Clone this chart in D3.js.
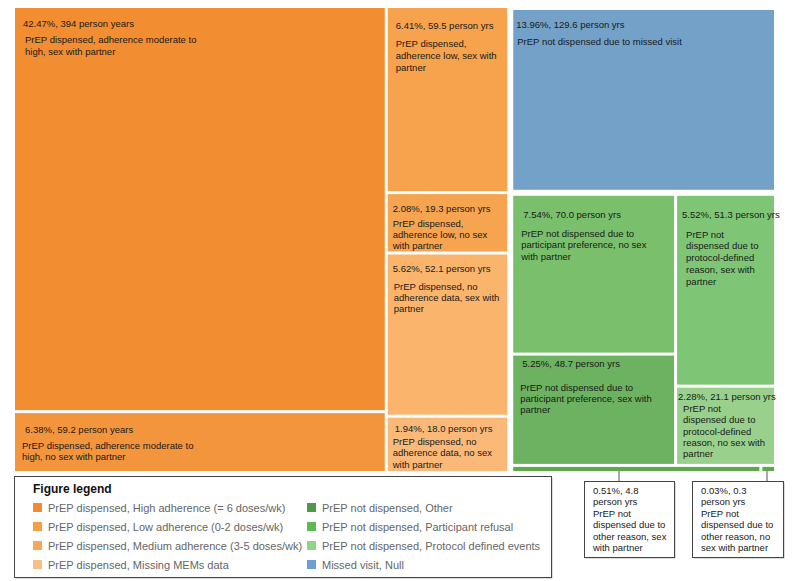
<!DOCTYPE html>
<html>
<head>
<meta charset="utf-8">
<script src="https://cdn.jsdelivr.net/npm/d3@7"></script>
<style>
  html, body { margin: 0; padding: 0; background: #fff; }
  svg { display: block; font-family: "Liberation Sans", Arial, sans-serif; }
</style>
</head>
<body>
<svg id="chart" width="793" height="581"></svg>
<script>
// ---------------- DATA ----------------
const cellIds = ["hiSex","hiNoSex","lowSex","lowNoSex","noDataSex","noDataNoSex","missed","partNoSex","partSex","protSex","protNoSex","otherSex","otherNoSex"];
const cellParents = ["highAdh","highAdh","otherDisp","otherDisp","otherDisp","otherDisp","notDisp","participant","participant","protocol","protocol","otherReason","otherReason"];
const cellPercent = [42.47, 6.38, 6.41, 2.08, 5.62, 1.94, 13.96, 7.54, 5.25, 5.52, 2.28, 0.51, 0.03];
const cellPersonYears = ["394", "59.2", "59.5", "19.3", "52.1", "18.0", "129.6", "70.0", "48.7", "51.3", "21.1", "4.8", "0.3"];
const cellUnits = ["person years","person years","person yrs","person yrs","person yrs","person yrs","person yrs","person yrs","person yrs","person yrs","person yrs","person yrs","person yrs"];
const cellDescriptions = [
  "PrEP dispensed, adherence moderate to\nhigh, sex with partner",
  "PrEP dispensed, adherence moderate to\nhigh, no sex with partner",
  "PrEP dispensed,\nadherence low, sex with\npartner",
  "PrEP dispensed,\nadherence low, no sex\nwith partner",
  "PrEP dispensed, no\nadherence data, sex with\npartner",
  "PrEP dispensed, no\nadherence data, no sex\nwith partner",
  "PrEP not dispensed due to missed visit",
  "PrEP not dispensed due to\nparticipant preference, no sex\nwith partner",
  "PrEP not dispensed due to\nparticipant preference, sex with\npartner",
  "PrEP not\ndispensed due to\nprotocol-defined\nreason, sex with\npartner",
  "PrEP not\ndispensed due to\nprotocol-defined\nreason, no sex with\npartner",
  "PrEP not dispensed due to other reason, sex with partner",
  "PrEP not dispensed due to other reason, no sex with partner"
];
const groupIds = ["highAdh","otherDisp","notDisp","green","greenTop","participant","protocol","otherReason"];
const groupParents = ["root","root","root","notDisp","green","greenTop","greenTop","green"];
const nodeOrder = ["highAdh","otherDisp","notDisp","missed","green","greenTop","otherReason","participant","protocol"].concat(cellIds);

const legendTitle = "Figure legend";
const legendLabels = [
  "PrEP dispensed, High adherence (= 6 doses/wk)",
  "PrEP dispensed, Low adherence (0-2 doses/wk)",
  "PrEP dispensed, Medium adherence (3-5 doses/wk)",
  "PrEP dispensed, Missing MEMs data",
  "PrEP not dispensed, Other",
  "PrEP not dispensed, Participant refusal",
  "PrEP not dispensed, Protocol defined events",
  "Missed visit, Null"
];

// ---------------- STYLES ----------------
const cellColors = {
  hiSex: "#F28D31", hiNoSex: "#F3953D", lowSex: "#F7A24C", lowNoSex: "#F6A450",
  noDataSex: "#FAB46C", noDataNoSex: "#FBB979", missed: "#73A1C7",
  partNoSex: "#79BF6C", partSex: "#6CB260", protSex: "#7EC675", protNoSex: "#99D08C",
  otherSex: "#5EA84C", otherNoSex: "#5EA84C"
};
const legendColors = ["#F08A35","#F5A040","#F9A65A","#F9BF87","#4E9A48","#5BBB4F","#8FD585","#6C9FD4"];
const tileDir = { root: "dice", highAdh: "slice", otherDisp: "slice", notDisp: "slice", green: "slice",
  greenTop: "dice", participant: "slice", protocol: "slice", otherReason: "dice" };
// label offsets relative to cell top-left: value (vx,vy), description (dx,dy), line step
const labelPos = {
  hiSex:       { vx: 8,  vy: 18.5, dx: 10, dy: 35,   step: 12 },
  hiNoSex:     { vx: 10, vy: 20,   dx: 7,  dy: 36,   step: 11 },
  lowSex:      { vx: 8,  vy: 21,   dx: 8,  dy: 39,   step: 12 },
  lowNoSex:    { vx: 5,  vy: 18,   dx: 5,  dy: 33,   step: 11 },
  noDataSex:   { vx: 5,  vy: 17.5, dx: 6,  dy: 35.5, step: 11 },
  noDataNoSex: { vx: 7,  vy: 14.5, dx: 5,  dy: 27,   step: 11.5 },
  missed:      { vx: 3,  vy: 18,   dx: 4,  dy: 35,   step: 12 },
  partNoSex:   { vx: 10, vy: 22,   dx: 8,  dy: 41,   step: 11.5 },
  partSex:     { vx: 9,  vy: 11.5, dx: 7,  dy: 35.5, step: 11 },
  protSex:     { vx: 5,  vy: 22,   dx: 9,  dy: 42,   step: 11.7 },
  protNoSex:   { vx: 1,  vy: 12.5, dx: 6,  dy: 24.5, step: 11.3 }
};
const callouts = {
  otherSex:   { bx: 584, by: 481, bw: 90, bh: 76, lx: 619 },
  otherNoSex: { bx: 692, by: 481, bw: 91, bh: 76, lx: 767 }
};
const FS = 9.5;

// ---------------- BUILD ----------------
const svg = d3.select("#chart");
const rows = [{ id: "root", parent: null }]
  .concat(groupIds.map((g, i) => ({ id: g, parent: groupParents[i] })))
  .concat(cellIds.map((c, i) => ({
    id: c, parent: cellParents[i], value: cellPercent[i],
    py: cellPersonYears[i], unit: cellUnits[i], desc: cellDescriptions[i]
  })));

const root = d3.stratify().id(d => d.id).parentId(d => d.parent)(rows)
  .sum(d => d.value || 0)
  .sort((a, b) => nodeOrder.indexOf(a.id) - nodeOrder.indexOf(b.id));

function tile(node, x0, y0, x1, y1) {
  (tileDir[node.id] === "dice" ? d3.treemapDice : d3.treemapSlice)(node, x0, y0, x1, y1);
}

d3.treemap()
  .size([760, 463])
  .tile(tile)
  .paddingInner(d => d.id === "notDisp" ? 6 : 3)
  .paddingLeft(d => d.id === "notDisp" ? 3 : 0)
  .paddingTop(d => d.id === "notDisp" ? 2 : 0)
  .paddingRight(d => d.id === "notDisp" ? 1 : 0)(root);

const g = svg.append("g").attr("transform", "translate(15,8)");
const leaves = root.leaves();

g.selectAll("rect.cell").data(leaves).join("rect")
  .attr("class", "cell")
  .attr("x", d => d.x0).attr("y", d => d.y0)
  .attr("width", d => d.x1 - d.x0).attr("height", d => d.y1 - d.y0)
  .attr("fill", d => cellColors[d.id]);

function valueText(d) { return `${d.data.value.toFixed(2)}%, ${d.data.py} ${d.data.unit}`; }

leaves.filter(d => labelPos[d.id]).forEach(d => {
  const p = labelPos[d.id];
  g.append("text")
    .attr("x", d.x0 + p.vx).attr("y", d.y0 + p.vy)
    .attr("font-size", FS).attr("fill", "#1a1a1a")
    .text(valueText(d));
  const t = g.append("text")
    .attr("x", d.x0 + p.dx).attr("y", d.y0 + p.dy)
    .attr("font-size", FS).attr("fill", "#1a1a1a");
  d.data.desc.split("\n").forEach((line, i) => {
    t.append("tspan").attr("x", d.x0 + p.dx).attr("y", d.y0 + p.dy + i * p.step).text(line);
  });
});

// callouts for tiny cells
function wrapWords(str, maxW) {
  const tmp = svg.append("text").attr("font-size", FS);
  const words = str.split(" ");
  const lines = [];
  let cur = "";
  words.forEach(w => {
    const test = cur ? cur + " " + w : w;
    tmp.text(test);
    if (tmp.node().getComputedTextLength() > maxW && cur) { lines.push(cur); cur = w; }
    else cur = test;
  });
  if (cur) lines.push(cur);
  tmp.remove();
  return lines;
}

leaves.filter(d => callouts[d.id]).forEach(d => {
  const c = callouts[d.id];
  svg.append("line")
    .attr("x1", c.lx).attr("x2", c.lx)
    .attr("y1", d.y1 + 8).attr("y2", c.by)
    .attr("stroke", "#555").attr("stroke-width", 1);
  svg.append("rect").attr("x", c.bx + 1.5).attr("y", c.by + 1.5).attr("width", c.bw).attr("height", c.bh)
    .attr("fill", "#bbb");
  svg.append("rect").attr("x", c.bx + 0.5).attr("y", c.by + 0.5).attr("width", c.bw).attr("height", c.bh)
    .attr("fill", "#fff").attr("stroke", "#444").attr("stroke-width", 1);
  const lines = wrapWords(valueText(d), c.bw - 14).concat(wrapWords(d.data.desc, c.bw - 14));
  const t = svg.append("text").attr("font-size", FS).attr("fill", "#1a1a1a");
  lines.forEach((line, i) => {
    t.append("tspan").attr("x", c.bx + 9).attr("y", c.by + 13 + i * 11.4).text(line);
  });
});

// legend
const lg = svg.append("g");
lg.append("rect").attr("x", 15.5).attr("y", 477.5).attr("width", 537).attr("height", 101).attr("fill", "#bbb");
lg.append("rect").attr("x", 14.5).attr("y", 476.5).attr("width", 537).attr("height", 101)
  .attr("fill", "#fff").attr("stroke", "#444").attr("stroke-width", 1);
lg.append("text").attr("x", 33).attr("y", 492.5).attr("font-size", 12).attr("font-weight", "bold")
  .attr("fill", "#111").text(legendTitle);
const legendCol = d3.scaleOrdinal().domain([0, 1]).range([33, 307]);
const legendRow = d3.scalePoint().domain([0, 1, 2, 3]).range([507.5, 564.5]);
legendLabels.forEach((lab, i) => {
  const col = Math.floor(i / 4), row = i % 4;
  const x = legendCol(col), y = legendRow(row);
  lg.append("rect").attr("x", x).attr("y", y - 4.5).attr("width", 9).attr("height", 9)
    .attr("fill", legendColors[i]);
  lg.append("text").attr("x", x + 15).attr("y", y + 4).attr("font-size", 11)
    .attr("fill", "#666").text(lab);
});
</script>
</body>
</html>
